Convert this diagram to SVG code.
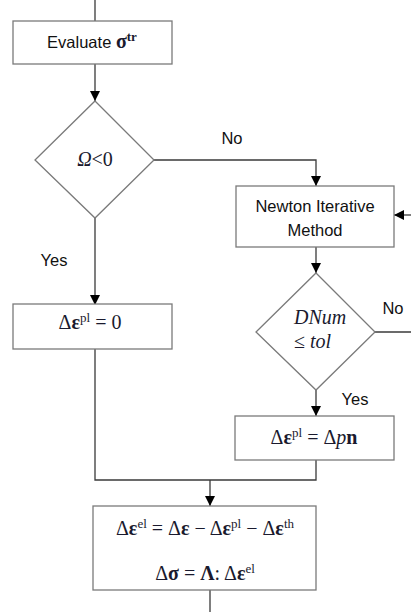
<svg xmlns="http://www.w3.org/2000/svg" width="411" height="612" viewBox="0 0 411 612">
<style>
.box{fill:#fff;stroke:#7a7a7a;stroke-width:1.3}
.ln{fill:none;stroke:#3a3a3a;stroke-width:1.3}
.t{font-family:"Liberation Sans",Arial,sans-serif;font-size:16.5px;fill:#111}
.m{font-family:"Liberation Serif","Times New Roman",serif;font-size:20px;fill:#1a1a2e}
.b{font-weight:bold}
.i{font-style:italic}
.sup{font-size:13px}
</style>
<defs>
<marker id="ah" viewBox="0 0 10 10" refX="10" refY="5" markerWidth="10" markerHeight="10" markerUnits="userSpaceOnUse" orient="auto">
<path d="M0,0 L10,5 L0,10 Z" fill="#000"/>
</marker>
</defs>
<rect width="411" height="612" fill="#fff"/>
<g id="connectors">
<line class="ln" x1="95" y1="0" x2="95" y2="21"/>
<line class="ln" x1="95" y1="64" x2="95" y2="101" marker-end="url(#ah)"/>
<polyline class="ln" points="154,160 316,160 316,186" marker-end="url(#ah)"/>
<line class="ln" x1="411" y1="215" x2="394" y2="215" marker-end="url(#ah)"/>
<line class="ln" x1="95" y1="218" x2="95" y2="305" marker-end="url(#ah)"/>
<line class="ln" x1="316" y1="247" x2="316" y2="273" marker-end="url(#ah)"/>
<line class="ln" x1="375" y1="332" x2="411" y2="332"/>
<line class="ln" x1="316" y1="390" x2="316" y2="416" marker-end="url(#ah)"/>
<polyline class="ln" points="95,349 95,480 316,480 316,460"/>
<line class="ln" x1="210" y1="480" x2="210" y2="506" marker-end="url(#ah)"/>
<line class="ln" x1="210" y1="590" x2="210" y2="612"/>
<text class="t" x="232" y="144" text-anchor="middle">No</text>
<text class="t" x="54" y="266" text-anchor="middle">Yes</text>
<text class="t" x="393" y="314" text-anchor="middle">No</text>
<text class="t" x="355" y="405" text-anchor="middle">Yes</text>
</g>
<g id="evaluate">
<rect class="box" x="13" y="21" width="159" height="43"/>
<text class="t" x="92" y="48" text-anchor="middle">Evaluate <tspan class="m b" font-size="18px">σ</tspan><tspan class="m b sup" dy="-7">tr</tspan></text>
</g>
<g id="omega">
<polygon class="box" points="95,101 154,160 95,218 35,160"/>
<text class="m i" x="95" y="166" text-anchor="middle" font-size="17px">Ω<tspan font-style="normal">&lt;0</tspan></text>
</g>
<g id="newton">
<rect class="box" x="236" y="186" width="158" height="61"/>
<text class="t" x="315" y="212" text-anchor="middle">Newton Iterative</text>
<text class="t" x="315" y="236" text-anchor="middle">Method</text>
</g>
<g id="dnum">
<polygon class="box" points="316,273 375,332 316,390 256,332"/>
<text class="m i" x="294" y="324">DNum</text>
<text class="m" x="294" y="348">≤ <tspan class="i">tol</tspan></text>
</g>
<g id="zero">
<rect class="box" x="13" y="304" width="159" height="45"/>
<text class="m" x="90" y="329" text-anchor="middle"><tspan>Δ</tspan><tspan class="b">ε</tspan><tspan class="sup" dy="-7">pl</tspan><tspan dy="7"> = 0</tspan></text>
</g>
<g id="dpn">
<rect class="box" x="235" y="416" width="159" height="44"/>
<text class="m" x="314" y="444" text-anchor="middle"><tspan>Δ</tspan><tspan class="b">ε</tspan><tspan class="sup" dy="-7">pl</tspan><tspan dy="7"> = Δ</tspan><tspan class="i">p</tspan><tspan class="b">n</tspan></text>
</g>
<g id="update">
<rect class="box" x="93" y="506" width="223" height="84"/>
<text class="m" x="205" y="535" text-anchor="middle"><tspan>Δ</tspan><tspan class="b">ε</tspan><tspan class="sup" dy="-7">el</tspan><tspan dy="7"> = Δ</tspan><tspan class="b">ε</tspan><tspan> −  Δ</tspan><tspan class="b">ε</tspan><tspan class="sup" dy="-7">pl</tspan><tspan dy="7"> − Δ</tspan><tspan class="b">ε</tspan><tspan class="sup" dy="-7">th</tspan></text>
<text class="m" x="205" y="580" text-anchor="middle"><tspan>Δ</tspan><tspan class="b">σ</tspan><tspan> = </tspan><tspan class="b">Λ</tspan><tspan>: Δ</tspan><tspan class="b">ε</tspan><tspan class="sup" dy="-7">el</tspan></text>
</g>
</svg>
